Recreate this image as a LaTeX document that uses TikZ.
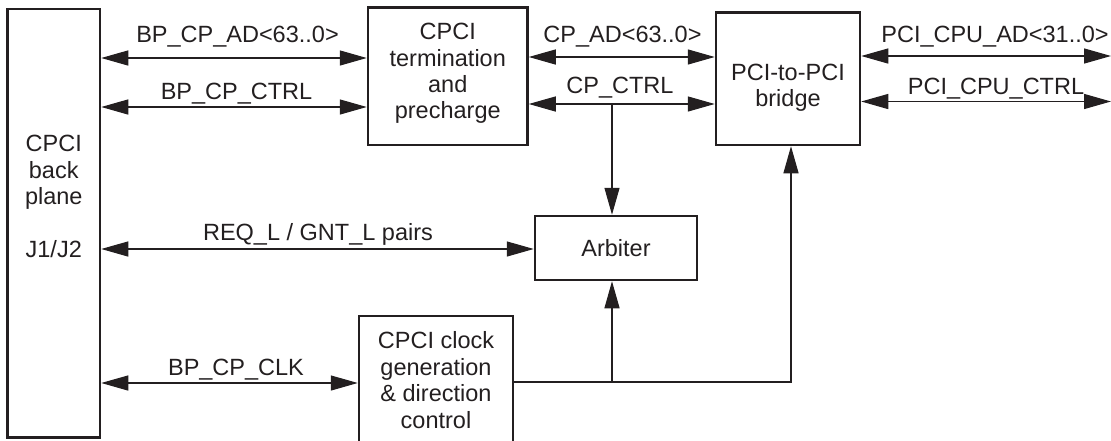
\documentclass[tikz,border=0pt]{standalone}
\usepackage{fontspec}
\setmainfont{Liberation Sans}
\usetikzlibrary{arrows.meta}
\definecolor{ink}{HTML}{231F20}
\begin{document}
\begin{tikzpicture}[x=1pt,y=-1pt,
  font=\fontsize{23.5}{26.4}\selectfont,
  >={Triangle[length=27pt,width=15pt]},
  block/.style={draw=ink,line width=2.5pt,inner sep=0pt,align=center,text=ink},
  txt/.style={align=center,inner sep=0pt,text=ink},
  sig/.style={draw=ink,line width=1.3pt},
  lbl/.style={anchor=base,inner sep=0pt,text=ink}]
\useasboundingbox (0,0) rectangle (1111,440);
\clip (0,0) rectangle (1111,440);

% blocks
\node[block,minimum width=92.5pt,minimum height=428.5pt] (bp) at (53.75,223.25) {};
\node[txt] (bptext) at (53.75,196.5) {CPCI\\back\\plane\\[26.4pt]J1/J2};
\node[block,minimum width=159.5pt,minimum height=137.7pt] (term) at (447.75,76.15) {};
\node[txt] (termtext) at (447.75,73.5) {CPCI\\termination\\and\\precharge};
\node[block,minimum width=144pt,minimum height=132.3pt] (br) at (788,78.85) {};
\node[txt] (brtext) at (788,88) {PCI-to-PCI\\bridge};
\node[block,minimum width=162pt,minimum height=64pt] (arb) at (616,248) {Arbiter};
\node[block,minimum width=154pt,minimum height=128pt] (clk) at (436,380)
  {CPCI clock\\generation\\\& direction\\control};

% free ends and junctions
\coordinate (outA) at (1111,56);
\coordinate (outC) at (1111,101.5);
\coordinate (tap) at (612,104);
\coordinate (fork) at (612,382);
\coordinate (turn) at (791,382);

% buses
\draw[sig,<->] (bp.east |- 0,58) -- (term.west |- 0,58);
\draw[sig,<->] (bp.east |- 0,107) -- (term.west |- 0,107);
\draw[sig,<->] (term.east |- 0,57) -- (br.west |- 0,57);
\draw[sig,<->] (term.east |- tap) -- (br.west |- tap);
\draw[sig,<->] (br.east |- outA) -- (outA);
\draw[sig,<->] (br.east |- outC) -- (outC);
\draw[sig,<->] (bp.east |- 0,249) -- (arb.west |- 0,249);
\draw[sig,<->] (bp.east |- 0,383) -- (clk.west |- 0,383);

% control and clock distribution
\draw[sig,->] (tap) -- (tap |- arb.north);
\draw[sig,->] (clk.east |- fork) -- (turn) -- (turn |- br.south);
\draw[sig,->] (fork) -- (fork |- arb.south);

% signal names
\node[lbl] (l1) at (237.5,42) {BP\_CP\_AD<63..0>};
\node[lbl] (l2) at (236.5,99) {BP\_CP\_CTRL};
\node[lbl] (l3) at (622.5,42) {CP\_AD<63..0>};
\node[lbl] (l4) at (620,93) {CP\_CTRL};
\node[lbl] (l5) at (995,42) {PCI\_CPU\_AD<31..0>};
\node[lbl] (l6) at (996,94) {PCI\_CPU\_CTRL};
\node[lbl] (l7) at (318,240.7) {REQ\_L / GNT\_L pairs};
\node[lbl] (l8) at (236,375) {BP\_CP\_CLK};
\end{tikzpicture}
\end{document}
